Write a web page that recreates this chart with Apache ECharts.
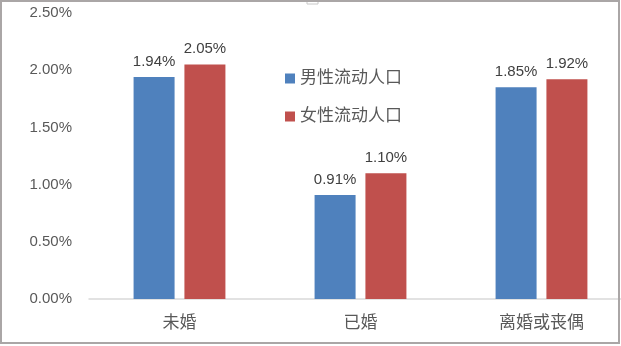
<!DOCTYPE html>
<html>
<head>
<meta charset="utf-8">
<script src="https://cdn.jsdelivr.net/npm/echarts@6/dist/echarts.min.js"></script>
<style>
  html, body { margin: 0; padding: 0; background: #fff; }
  #chart { width: 621px; height: 346px; }
</style>
</head>
<body>
<div id="chart"></div>
<script>
const categories = ['未婚', '已婚', '离婚或丧偶']
const maleValues = [1.94, 0.91, 1.85]
const femaleValues = [2.05, 1.10, 1.92]
const seriesNames = ['男性流动人口', '女性流动人口']

const textFont = '"Liberation Sans", "Noto Sans CJK SC", sans-serif'

let myChart = echarts.init(document.getElementById('chart'))

const labelOpt = {
    show: true,
    position: 'top',
    distance: 8,
    color: '#404040',
    fontSize: 15,
    fontFamily: textFont,
    formatter: p => p.value.toFixed(2) + '%'
}

myChart.setOption({
    animation: false,
    backgroundColor: '#fff',
    grid: { left: 89, top: 13, width: 543, height: 286, outerBoundsMode: 'none', containLabel: false },
    legend: {
        orient: 'vertical',
        left: 280,
        top: 65,
        itemWidth: 10,
        itemHeight: 10,
        itemGap: 21,
        icon: 'rect',
        textStyle: { color: '#595959', fontSize: 17, fontFamily: textFont },
        data: seriesNames
    },
    xAxis: {
        type: 'category',
        data: categories,
        axisLine: { lineStyle: { color: '#d9d9d9', width: 1.5 } },
        axisTick: { show: false },
        axisLabel: { color: '#595959', fontSize: 17, margin: 16, fontFamily: textFont }
    },
    yAxis: {
        type: 'value',
        min: 0,
        max: 2.5,
        interval: 0.5,
        axisLine: { show: false },
        axisTick: { show: false },
        splitLine: { show: false },
        axisLabel: {
            color: '#595959',
            fontSize: 15,
            margin: 17,
            fontFamily: textFont,
            formatter: v => v.toFixed(2) + '%'
        }
    },
    series: [
        {
            name: seriesNames[0],
            type: 'bar',
            data: maleValues,
            barWidth: 41,
            barGap: '24%',
            itemStyle: { color: '#4f81bd' },
            label: labelOpt
        },
        {
            name: seriesNames[1],
            type: 'bar',
            data: femaleValues,
            barWidth: 41,
            itemStyle: { color: '#c0504d' },
            label: labelOpt
        }
    ],
    graphic: [
        {
            type: 'rect',
            z: 100,
            shape: { x: 1, y: 1, width: 618, height: 342 },
            style: { fill: 'none', stroke: '#aaa6a6', lineWidth: 2 }
        },
        {
            type: 'polyline',
            z: 100,
            shape: { points: [[307, 2], [307, 4], [318, 4], [318, 2]] },
            style: { fill: 'none', stroke: '#c8c8c8', lineWidth: 1 }
        }
    ]
})
</script>
</body>
</html>
